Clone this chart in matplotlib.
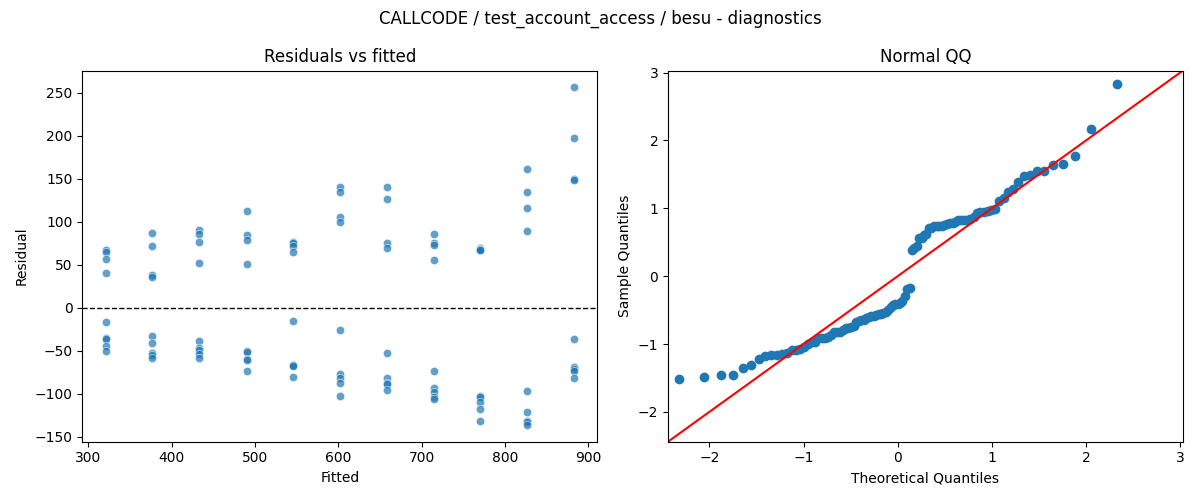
from statistics import NormalDist

import matplotlib
matplotlib.use("Agg")
import matplotlib.pyplot as plt
import numpy as np
import seaborn as sns

TITLE = "CALLCODE / test_account_access / besu - diagnostics"

fitted_levels = [321, 377, 433.5, 490, 546, 602, 658, 714.5, 770.5, 826.5, 882.5]
residual_groups = [
    [67, 65, 57, 41, -17, -35, -36, -44, -50],
    [87, 72, 38, 36, -33, -41, -52, -55, -58],
    [90, 86, 76, 52, -38, -47, -49, -54, -58],
    [112, 85, 79, 51, -50, -51, -59, -61, -74],
    [77, 75, 72, 65, -15, -66, -67, -68, -80],
    [140, 135, 105, 100, -26, -77, -81, -87, -103],
    [140, 126, 75, 70, -53, -82, -87, -89, -96],
    [86, 75, 73, 56, -74, -93, -98, -104, -106],
    [69, 68, 67, 67, -102, -104, -109, -117, -131],
    [161, 134, 116, 89, -97, -121, -131, -133, -136],
    [256, 197, 150, 148, -36, -69, -71, -73, -82],
]

fitted = np.concatenate([[f] * len(g) for f, g in zip(fitted_levels, residual_groups)])
resid = np.concatenate(residual_groups).astype(float)

# normal QQ: standardised residuals against normal quantiles
sample_q = np.sort((resid - resid.mean()) / resid.std())
n = len(sample_q)
theo_q = np.array([NormalDist().inv_cdf(i / (n + 1)) for i in range(1, n + 1)])

fig, (ax1, ax2) = plt.subplots(1, 2, figsize=(12, 5), dpi=100)

sns.scatterplot(x=fitted, y=resid, ax=ax1, alpha=0.7)
ax1.axhline(0, color="black", linestyle="--", linewidth=1)
ax1.set_xlabel("Fitted")
ax1.set_ylabel("Residual")
ax1.set_title("Residuals vs fitted")

ax2.plot(theo_q, sample_q, "o", color="C0")
ax2.axline((0, 0), slope=1, color="red")
ax2.set_xlim(-2.44, 3.03)
ax2.set_ylim(-2.44, 3.03)
ax2.set_xlabel("Theoretical Quantiles")
ax2.set_ylabel("Sample Quantiles")
ax2.set_title("Normal QQ")

fig.suptitle(TITLE)
fig.tight_layout()
fig.savefig("out.png")
